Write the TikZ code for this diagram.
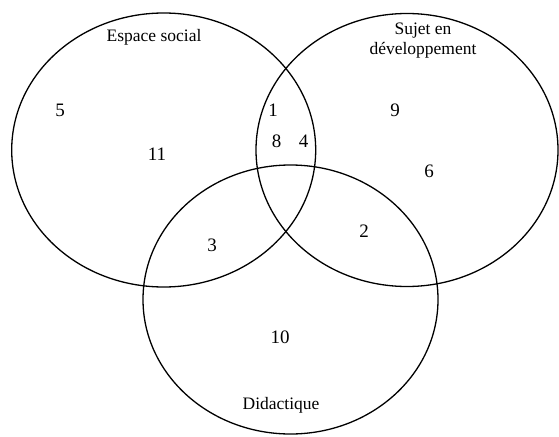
\documentclass[tikz,border=0pt]{standalone}
\usepackage{fontspec}
\setmainfont{Liberation Serif}
\usetikzlibrary{shapes.geometric}
\begin{document}
\begin{tikzpicture}[x=1pt,y=-1pt,
  setshape/.style={ellipse, draw=black, line width=1.3pt, inner sep=0pt, outer sep=0pt},
  lbl/.style={font=\fontsize{17.5}{20}\selectfont, inner sep=0pt, align=center},
  num/.style={font=\fontsize{19}{22}\selectfont, inner sep=0pt}]
\useasboundingbox (0,0) rectangle (559,436);
\clip (0,0) rectangle (559,436);
\node[setshape, minimum width=304pt, minimum height=274pt] (social) at (163.7,150) {};
\node[setshape, minimum width=302pt, minimum height=273pt] (sujet) at (407,150) {};
\node[setshape, minimum width=295pt, minimum height=269pt] (didac) at (290.5,299.5) {};
\node[lbl] (tsocial) at (154,37) {Espace social};
\node[lbl, font=\fontsize{17.5}{20.5}\selectfont] (tsujet) at (423,40.5) {Sujet en\\développement};
\node[lbl] (tdidac) at (281,405) {Didactique};
\node[num] (n5) at (60,110) {5};
\node[num] (n11) at (157,154) {11};
\node[num] (n1) at (273,110) {1};
\node[num] (n8) at (276.5,141) {8};
\node[num] (n4) at (303.5,141) {4};
\node[num] (n9) at (395,110) {9};
\node[num] (n6) at (429,171) {6};
\node[num] (n2) at (364,231) {2};
\node[num] (n3) at (212,245) {3};
\node[num] (n10) at (280,337) {10};
\end{tikzpicture}
\end{document}
